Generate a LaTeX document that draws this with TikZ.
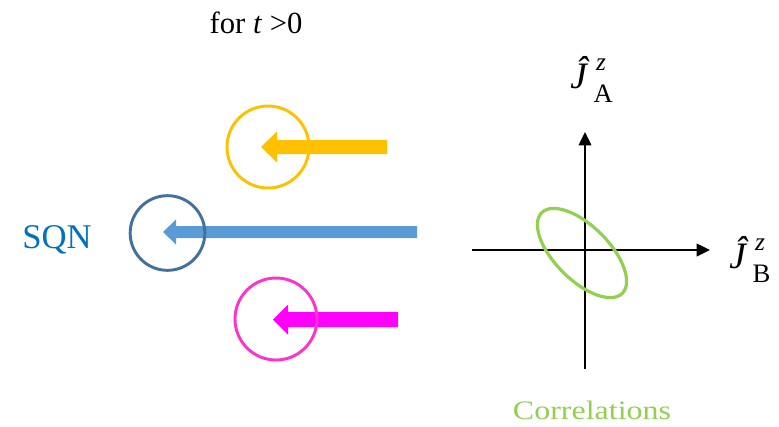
\documentclass[tikz,border=0pt]{standalone}
\usepackage{fontspec}
\setmainfont{Liberation Serif}
\usepackage{tikz}
\usetikzlibrary{arrows.meta,calc}
\definecolor{spinyellow}{HTML}{FFC000}
\definecolor{spinblue}{HTML}{5B9BD5}
\definecolor{ringblue}{HTML}{41719C}
\definecolor{spinpink}{HTML}{FF00FF}
\definecolor{ringpink}{HTML}{FF33CC}
\definecolor{sqnblue}{HTML}{0070C0}
\definecolor{corrgreen}{HTML}{92D050}
\tikzset{ring/.style={circle,draw=#1,line width=2.2pt,inner sep=0pt},
	axis/.style={line width=1.1pt,-{Triangle[length=10pt,width=9.5pt]}},
	lbl/.style={anchor=base west,inner sep=0pt,font=\fontsize{28}{30}\selectfont}}
% block arrow: colour, tail x, tip x, y, shaft half, head half, head length
\newcommand{\blockarrow}[7]{\fill[#1] (#2,#4-#5) -- (#3+#7,#4-#5) -- (#3+#7,#4-#6) -- (#3,#4) -- (#3+#7,#4+#6) -- (#3+#7,#4+#5) -- (#2,#4+#5) -- cycle;}
\newcommand{\Jop}[1]{{\itshape Ĵ}\hspace{5pt}\rlap{\hspace{2pt}\raisebox{13.5pt}{\fontsize{19}{19}\selectfont\itshape z}}\raisebox{-11pt}{\fontsize{20}{20}\selectfont #1}}

\begin{document}
\begin{tikzpicture}[x=0.75pt,y=-0.75pt]
				\useasboundingbox (0,0) rectangle (779,426);
				\node[anchor=base,inner sep=0pt] (title) at (256,33){\fontsize{23}{27}\selectfont for \textit{t} >0};
				\node[anchor=base west,inner sep=0pt,sqnblue] (sqn) at (22,248){\fontsize{26}{30}\selectfont SQN};
				\blockarrow{spinyellow}{387}{261}{147}{7}{15.5}{16}
				\blockarrow{spinblue}{417}{163}{232}{6}{12.5}{13}
				\blockarrow{spinpink}{398}{273}{319.5}{7.5}{15}{15}
				\node[ring=spinyellow,minimum size=61.5pt] (spinA) at (268,147){};
				\node[ring=ringblue,minimum size=56pt] (spinS) at (167.5,233){};
				\node[ring=ringpink,minimum size=61.5pt] (spinB) at (276,319){};
				\coordinate (o) at (585,250);
				\coordinate (ytop) at (585,132);
				\coordinate (ybot) at (585,369);
				\coordinate (xl) at (472,250);
				\coordinate (xr) at (710,250);
				\draw[axis] (ybot) -- (ytop);
				\draw[axis] (xl) -- (xr);
				\draw[corrgreen,line width=2.4pt,rotate around={-45:(582,253)}] (582,253) ellipse [x radius=57,y radius=27];
				\node[lbl] (ja) at (570,88){\Jop{A}};
				\node[lbl] (jb) at (729,268){\Jop{B}};
				\node[anchor=base,inner sep=0pt,corrgreen] (corr) at (592,419){\fontsize{20}{24}\selectfont\scalebox{1.2}[1]{Correlations}};
			\end{tikzpicture}
\end{document}
